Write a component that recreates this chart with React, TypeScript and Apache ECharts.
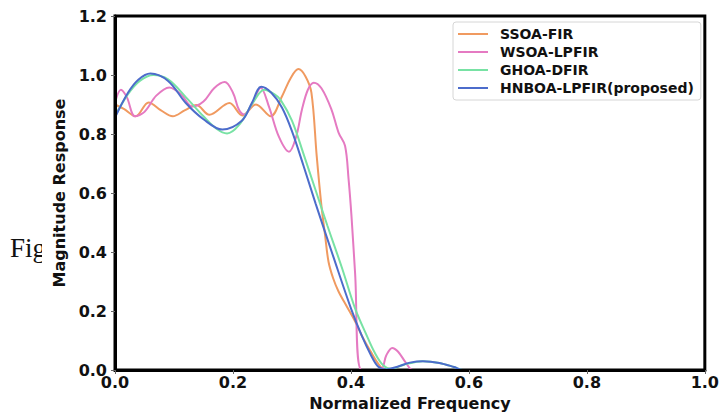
import React, { useEffect, useRef } from "react";
import * as echarts from "echarts";

const xTicks = [0, 0.2, 0.4, 0.6, 0.8, 1.0];
const yTicks = [0, 0.2, 0.4, 0.6, 0.8, 1.0, 1.2];

const seriesNames = ["SSOA-FIR", "WSOA-LPFIR", "GHOA-DFIR", "HNBOA-LPFIR(proposed)"];
const seriesColors = ["#F09A60", "#E57AC2", "#78E2A4", "#4C6CCB"];

const ssoaF = [0, 0.015, 0.035, 0.057, 0.078, 0.098, 0.118, 0.138, 0.16, 0.194, 0.216, 0.239, 0.264, 0.283, 0.298, 0.311, 0.323, 0.333, 0.342, 0.35, 0.356, 0.362, 0.37, 0.379, 0.393, 0.407, 0.42, 0.433, 0.445, 0.458, 0.5, 0.7, 1.0];
const ssoaM = [0.9, 0.885, 0.86, 0.907, 0.88, 0.86, 0.88, 0.898, 0.865, 0.905, 0.863, 0.9, 0.86, 0.927, 0.99, 1.02, 0.995, 0.94, 0.725, 0.556, 0.46, 0.367, 0.31, 0.266, 0.215, 0.165, 0.11, 0.064, 0.025, 0.0, 0.0, 0.0, 0.0];

const wsoaF = [0, 0.01, 0.02, 0.034, 0.05, 0.07, 0.092, 0.112, 0.131, 0.15, 0.168, 0.186, 0.2, 0.21, 0.219, 0.232, 0.247, 0.261, 0.278, 0.295, 0.307, 0.317, 0.327, 0.337, 0.35, 0.367, 0.379, 0.39, 0.396, 0.401, 0.407, 0.418, 0.45, 0.46, 0.47, 0.48, 0.493, 0.505, 0.7, 1.0];
const wsoaM = [0.905, 0.95, 0.925, 0.86, 0.875, 0.93, 0.958, 0.935, 0.893, 0.91, 0.955, 0.976, 0.94, 0.883, 0.866, 0.9, 0.957, 0.893, 0.79, 0.74, 0.79, 0.883, 0.95, 0.974, 0.955, 0.883, 0.805, 0.76, 0.647, 0.52, 0.33, 0.0, 0.0, 0.05, 0.075, 0.062, 0.025, 0.0, 0.0, 0.0];

const ghoaF = [0, 0.022, 0.042, 0.065, 0.09, 0.12, 0.15, 0.172, 0.19, 0.21, 0.235, 0.253, 0.27, 0.281, 0.3, 0.32, 0.34, 0.36, 0.385, 0.407, 0.425, 0.44, 0.455, 0.468, 0.49, 0.522, 0.55, 0.575, 0.59, 0.7, 1.0];
const ghoaM = [0.86, 0.935, 0.98, 1.0, 0.985, 0.925, 0.86, 0.818, 0.802, 0.83, 0.91, 0.95, 0.935, 0.915, 0.845, 0.73, 0.61, 0.49, 0.345, 0.209, 0.125, 0.06, 0.015, 0.004, 0.018, 0.03, 0.024, 0.01, 0.0, 0.0, 0.0];

const hnboaF = [0, 0.022, 0.04, 0.06, 0.09, 0.12, 0.15, 0.182, 0.215, 0.232, 0.248, 0.265, 0.283, 0.3, 0.32, 0.34, 0.37, 0.4, 0.418, 0.434, 0.446, 0.46, 0.48, 0.5, 0.522, 0.55, 0.575, 0.59, 0.7, 1.0];
const hnboaM = [0.856, 0.94, 0.985, 1.005, 0.98, 0.905, 0.85, 0.815, 0.845, 0.905, 0.96, 0.94, 0.89, 0.81, 0.69, 0.565, 0.385, 0.209, 0.118, 0.05, 0.012, 0.002, 0.012, 0.025, 0.03, 0.024, 0.01, 0.0, 0.0, 0.0];

const allF = [ssoaF, wsoaF, ghoaF, hnboaF];
const allM = [ssoaM, wsoaM, ghoaM, hnboaM];

const font = "DejaVu Sans";

export default function App() {
  const ref = useRef<HTMLDivElement>(null);
  useEffect(() => {
    if (!ref.current) return;
    const chart = echarts.init(ref.current, null, { renderer: "svg" });
    const series = seriesNames.map((name, i) => ({
      name,
      type: "line",
      smooth: 0.35,
      symbol: "none",
      data: allF[i].map((f, j) => [f, allM[i][j]]),
      lineStyle: { color: seriesColors[i], width: 2 },
      itemStyle: { color: seriesColors[i] },
      z: 2 + i * 0.1,
    }));
    chart.setOption({
      animation: false,
      backgroundColor: "#ffffff",
      grid: {
        left: 115,
        right: 13,
        top: 16,
        bottom: 44,
        show: true,
        borderColor: "#000",
        borderWidth: 3,
      },
      legend: {
        orient: "vertical",
        left: 453,
        top: 22,
        data: seriesNames,
        icon: "rect",
        itemWidth: 30,
        itemHeight: 2,
        itemGap: 2,
        padding: [4, 7, 4, 5],
        borderColor: "#d6d6d6",
        borderWidth: 1,
        borderRadius: 3,
        backgroundColor: "#fff",
        textStyle: {
          fontFamily: font,
          fontWeight: "bold",
          fontSize: 14,
          color: "#111",
          lineHeight: 16,
          padding: [0, 0, 0, 7],
        },
      },
      xAxis: {
        type: "value",
        min: 0,
        max: 1,
        interval: 0.2,
        z: 5,
        name: "Normalized Frequency",
        nameLocation: "middle",
        nameGap: 25,
        nameTextStyle: { fontFamily: font, fontWeight: "bold", fontSize: 16, color: "#111" },
        axisLine: { show: true, lineStyle: { color: "#000", width: 3 } },
        axisTick: { show: true, length: 4, lineStyle: { color: "#666", width: 1 } },
        axisLabel: {
          fontFamily: font,
          fontWeight: "bold",
          fontSize: 16,
          color: "#111",
          margin: 4,
          formatter: (v: number) => v.toFixed(1),
        },
        splitLine: { show: false },
      },
      yAxis: {
        type: "value",
        min: 0,
        max: 1.2,
        interval: 0.2,
        z: 5,
        name: "Magnitude Response",
        nameLocation: "middle",
        nameGap: 46,
        nameTextStyle: { fontFamily: font, fontWeight: "bold", fontSize: 16, color: "#111" },
        axisLine: { show: true, lineStyle: { color: "#000", width: 3 } },
        axisTick: { show: true, length: 4, lineStyle: { color: "#666", width: 1 } },
        axisLabel: {
          fontFamily: font,
          fontWeight: "bold",
          fontSize: 16,
          color: "#111",
          margin: 8,
          formatter: (v: number) => v.toFixed(1),
        },
        splitLine: { show: false },
      },
      graphic: [
        {
          type: "text",
          left: 10,
          top: 234,
          z: 0,
          style: { text: "Fig", fontFamily: "Liberation Serif", fontSize: 27, fill: "#111" },
        },
        {
          type: "rect",
          shape: { x: 42, y: 200, width: 12, height: 80 },
          z: 1,
          style: { fill: "#fff" },
        },
      ],
      series,
    });
    return () => chart.dispose();
  }, []);
  return (
    <div
      ref={ref}
      style={{ position: "fixed", left: 0, top: 0, width: 722, height: 416 }}
    />
  );
}
